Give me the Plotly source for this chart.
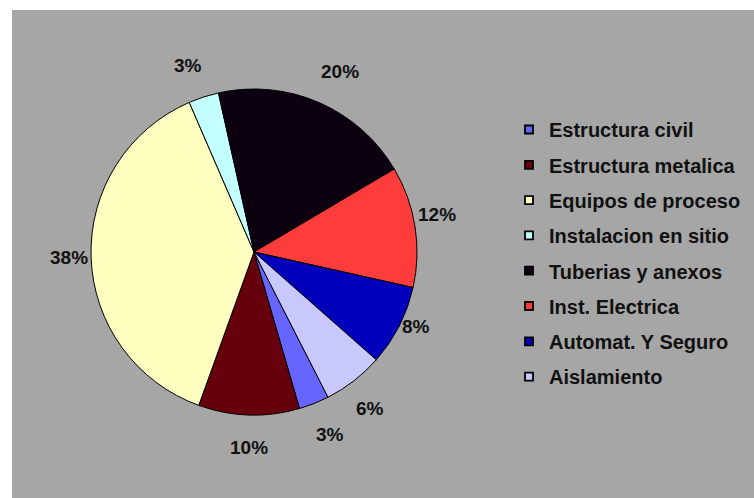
import math
import plotly.graph_objects as go

labels = ["Estructura civil", "Estructura metalica", "Equipos de proceso",
          "Instalacion en sitio", "Tuberias y anexos", "Inst. Electrica",
          "Automat. Y Seguro", "Aislamiento"]
values = [3, 10, 38, 3, 20, 12, 8, 6]
colors = ["#6666FF", "#66000C", "#FFFFC0", "#C4FFFF", "#0C0010",
          "#FF3C3C", "#0000BC", "#C8C8FF"]

W, H = 754, 498
FONT = "Liberation Sans, Arial, sans-serif"
ROT = 153            # start angle of first slice, degrees clockwise from 12 o'clock
CX, CY, R = 254, 252, 163   # pie centre / radius in pixels
LRX, LRY = R + 2, R + 21    # label anchor ellipse

fig = go.Figure()
fig.add_trace(go.Pie(
    labels=labels, values=values, sort=False, direction="clockwise",
    rotation=ROT,
    marker=dict(colors=colors, line=dict(color="#000000", width=1)),
    textinfo="none",
    showlegend=False, hoverinfo="label+percent",
    domain=dict(x=[(CX - R) / W, (CX + R) / W],
                y=[(H - CY - R) / H, (H - CY + R) / H]),
))

for lab, col in zip(labels, colors):
    fig.add_trace(go.Scatter(
        x=[None], y=[None], mode="markers", name="<b>" + lab + "</b>",
        legendgroup=lab,
        marker=dict(symbol="square", size=8, color=col,
                    line=dict(color="#000000", width=1.8)),
    ))

# outside percent labels, positioned from the slice mid-angles
annotations = []
total = sum(values)
cum = 0
for v in values:
    mid = math.radians(ROT + 360 * (cum + v / 2) / total)
    cum += v
    dx, dy = math.sin(mid), -math.cos(mid)
    px = CX + dx * LRX
    py = CY + dy * (LRY if abs(dy) >= 0.5 else LRX)
    xa = "center" if abs(dx) < 0.2 else ("left" if dx > 0 else "right")
    if abs(dy) < 0.5:
        ya = "middle" if dy >= 0 or abs(dy) < 0.1 else "bottom"
    else:
        ya = "top" if dy > 0 else "bottom"
    annotations.append(dict(
        x=px / W, y=1 - py / H, xref="paper", yref="paper",
        xanchor=xa, yanchor=ya, showarrow=False,
        text="<b>%d%%</b>" % round(100 * v / total),
        font=dict(family=FONT, size=19, color="#111111"),
        borderpad=0,
    ))

fig.update_layout(
    width=W, height=H,
    margin=dict(l=0, r=0, t=0, b=0),
    paper_bgcolor="#A6A6A6", plot_bgcolor="rgba(0,0,0,0)",
    xaxis=dict(visible=False), yaxis=dict(visible=False),
    showlegend=True,
    legend=dict(
        x=509 / W, xanchor="left", y=1 - 110 / H, yanchor="top",
        traceorder="grouped", tracegroupgap=6.3,
        bgcolor="rgba(0,0,0,0)",
        font=dict(family=FONT, size=20, color="#111111"),
    ),
    font=dict(family=FONT),
    annotations=annotations,
    shapes=[
        dict(type="rect", xref="paper", yref="paper", x0=0, x1=12 / W, y0=0, y1=1,
             fillcolor="white", line=dict(width=0), layer="below"),
        dict(type="rect", xref="paper", yref="paper", x0=0, x1=1, y0=1 - 10 / H, y1=1,
             fillcolor="white", line=dict(width=0), layer="below"),
    ],
)

fig.write_html("out.html")
